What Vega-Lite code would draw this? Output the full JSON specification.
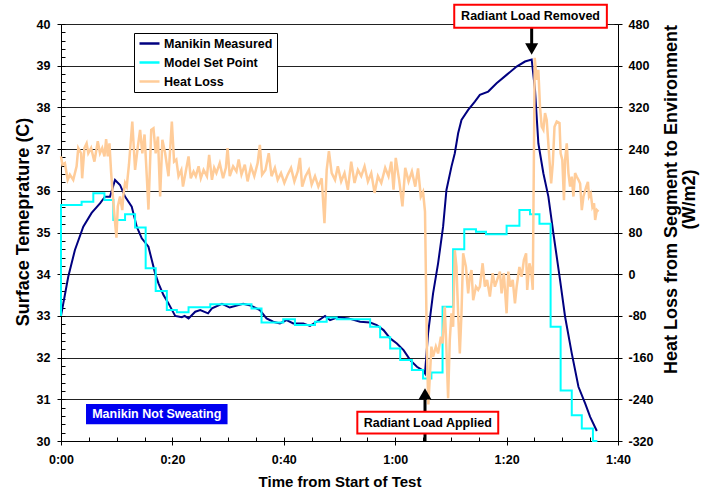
{
  "$schema": "https://vega.github.io/schema/vega-lite/v6.json",
  "width": 557,
  "height": 417,
  "autosize": {"type": "none"},
  "padding": {"left": 61, "top": 24, "right": 92, "bottom": 56},
  "background": "white",
  "config": {
    "view": {"stroke": null},
    "axis": {"grid": false, "labelFont": "Liberation Sans", "labelFontWeight": "bold", "labelFontSize": 12.5, "labelColor": "#000", "titleFont": "Liberation Sans", "titleFontWeight": "bold", "titleColor": "#000", "domainColor": "#000", "tickColor": "#000", "domainWidth": 1, "tickWidth": 1, "labelFlush": false, "labelOverlap": false},
    "text": {"font": "Liberation Sans"}
  },
  "datasets": {
    "measured": [
      {"t": 0, "v": 33.0}, {"t": 1.3, "v": 33.94}, {"t": 2.5, "v": 34.58}, {"t": 4.0, "v": 35.14}, {"t": 5.5, "v": 35.47}, {"t": 7.0, "v": 35.7}, {"t": 7.9, "v": 35.86}, {"t": 8.8, "v": 35.86}, {"t": 9.7, "v": 36.26}, {"t": 10.6, "v": 36.14}, {"t": 11.5, "v": 35.86}, {"t": 12.7, "v": 35.62}, {"t": 13.6, "v": 35.14}, {"t": 14.5, "v": 34.86}, {"t": 15.7, "v": 34.66}, {"t": 16.3, "v": 34.34}, {"t": 16.9, "v": 34.02}, {"t": 17.5, "v": 33.78}, {"t": 18.4, "v": 33.5}, {"t": 19.3, "v": 33.3}, {"t": 20.5, "v": 33.0}, {"t": 21.7, "v": 32.97}, {"t": 22.2, "v": 33.0}, {"t": 22.9, "v": 32.94}, {"t": 24.1, "v": 33.1}, {"t": 25.0, "v": 33.14}, {"t": 26.4, "v": 33.06}, {"t": 27.1, "v": 33.18}, {"t": 28.9, "v": 33.29}, {"t": 30.3, "v": 33.2}, {"t": 32.7, "v": 33.29}, {"t": 34.2, "v": 33.24}, {"t": 35.7, "v": 33.14}, {"t": 36.9, "v": 32.94}, {"t": 38.1, "v": 32.86}, {"t": 39.3, "v": 32.82}, {"t": 40.5, "v": 32.9}, {"t": 41.7, "v": 32.82}, {"t": 43.5, "v": 32.82}, {"t": 44.7, "v": 32.76}, {"t": 45.9, "v": 32.86}, {"t": 47.4, "v": 33.0}, {"t": 48.3, "v": 32.9}, {"t": 49.8, "v": 32.97}, {"t": 51.6, "v": 32.94}, {"t": 53.7, "v": 32.86}, {"t": 55.5, "v": 32.84}, {"t": 56.7, "v": 32.78}, {"t": 57.9, "v": 32.66}, {"t": 59.1, "v": 32.46}, {"t": 60.3, "v": 32.34}, {"t": 61.5, "v": 32.18}, {"t": 62.7, "v": 31.94}, {"t": 63.9, "v": 31.78}, {"t": 65.0, "v": 31.69}, {"t": 65.35, "v": 31.62}, {"t": 65.9, "v": 32.58}, {"t": 66.8, "v": 33.54}, {"t": 67.7, "v": 34.26}, {"t": 68.6, "v": 35.14}, {"t": 69.2, "v": 36.02}, {"t": 70.1, "v": 36.58}, {"t": 70.7, "v": 36.9}, {"t": 71.3, "v": 37.38}, {"t": 71.9, "v": 37.7}, {"t": 73.1, "v": 37.94}, {"t": 74.3, "v": 38.14}, {"t": 75.2, "v": 38.3}, {"t": 76.7, "v": 38.38}, {"t": 78.2, "v": 38.58}, {"t": 80.0, "v": 38.78}, {"t": 81.8, "v": 38.98}, {"t": 83.3, "v": 39.1}, {"t": 84.5, "v": 39.15}, {"t": 85.1, "v": 38.42}, {"t": 85.7, "v": 37.14}, {"t": 86.6, "v": 36.42}, {"t": 87.5, "v": 35.86}, {"t": 88.4, "v": 34.98}, {"t": 89.6, "v": 33.86}, {"t": 90.5, "v": 32.98}, {"t": 91.7, "v": 32.1}, {"t": 92.9, "v": 31.3}, {"t": 94.1, "v": 30.9}, {"t": 95.0, "v": 30.58}, {"t": 96.2, "v": 30.24}
    ],
    "setpoint": [
      {"t": 0, "v": 33.0}, {"t": 0, "v": 35.66}, {"t": 3.7, "v": 35.74}, {"t": 5.8, "v": 35.94}, {"t": 7.8, "v": 35.78}, {"t": 9.4, "v": 35.3}, {"t": 11.5, "v": 35.44}, {"t": 13.3, "v": 35.12}, {"t": 15.2, "v": 34.14}, {"t": 17.0, "v": 33.6}, {"t": 19.0, "v": 33.14}, {"t": 20.8, "v": 33.09}, {"t": 22.9, "v": 33.21}, {"t": 26.8, "v": 33.28}, {"t": 34.2, "v": 33.18}, {"t": 36.0, "v": 32.84}, {"t": 39.9, "v": 32.92}, {"t": 42.0, "v": 32.78}, {"t": 45.6, "v": 32.86}, {"t": 47.7, "v": 32.96}, {"t": 49.5, "v": 32.92}, {"t": 55.5, "v": 32.74}, {"t": 57.3, "v": 32.49}, {"t": 59.1, "v": 32.22}, {"t": 60.9, "v": 31.94}, {"t": 63.0, "v": 31.7}, {"t": 65.0, "v": 31.5}, {"t": 66.5, "v": 31.64}, {"t": 68.5, "v": 33.22}, {"t": 70.4, "v": 34.6}, {"t": 72.4, "v": 35.08}, {"t": 74.5, "v": 35.02}, {"t": 76.3, "v": 34.96}, {"t": 80.0, "v": 35.16}, {"t": 82.3, "v": 35.54}, {"t": 84.2, "v": 35.44}, {"t": 85.9, "v": 35.21}, {"t": 87.9, "v": 32.74}, {"t": 89.7, "v": 31.21}, {"t": 91.7, "v": 30.62}, {"t": 93.5, "v": 30.3}, {"t": 95.5, "v": 30.0}, {"t": 96.3, "v": 30.0}
    ],
    "heat": [
      {"t": 0.0, "h": 226}, {"t": 0.25, "h": 210}, {"t": 0.7, "h": 213}, {"t": 1.2, "h": 181}, {"t": 1.6, "h": 191}, {"t": 2.2, "h": 181}, {"t": 2.8, "h": 207}, {"t": 3.1, "h": 242}, {"t": 3.6, "h": 232}, {"t": 3.8, "h": 184}, {"t": 4.2, "h": 242}, {"t": 4.6, "h": 251}, {"t": 4.9, "h": 232}, {"t": 5.4, "h": 242}, {"t": 6.0, "h": 216}, {"t": 6.6, "h": 255}, {"t": 7.0, "h": 232}, {"t": 7.4, "h": 242}, {"t": 7.8, "h": 226}, {"t": 8.1, "h": 259}, {"t": 8.4, "h": 226}, {"t": 8.7, "h": 251}, {"t": 9.0, "h": 195}, {"t": 9.4, "h": 138}, {"t": 9.7, "h": 100}, {"t": 9.95, "h": 70}, {"t": 10.2, "h": 130}, {"t": 10.6, "h": 149}, {"t": 11.0, "h": 123}, {"t": 11.2, "h": 152}, {"t": 11.5, "h": 175}, {"t": 11.8, "h": 168}, {"t": 12.2, "h": 210}, {"t": 12.8, "h": 293}, {"t": 13.3, "h": 200}, {"t": 13.8, "h": 245}, {"t": 14.2, "h": 277}, {"t": 14.6, "h": 232}, {"t": 15.0, "h": 268}, {"t": 15.4, "h": 188}, {"t": 15.7, "h": 124}, {"t": 16.2, "h": 277}, {"t": 16.6, "h": 280}, {"t": 17.0, "h": 232}, {"t": 17.4, "h": 264}, {"t": 17.8, "h": 149}, {"t": 18.2, "h": 258}, {"t": 18.7, "h": 232}, {"t": 19.3, "h": 188}, {"t": 19.9, "h": 293}, {"t": 20.3, "h": 216}, {"t": 20.7, "h": 220}, {"t": 21.1, "h": 188}, {"t": 21.6, "h": 200}, {"t": 21.9, "h": 168}, {"t": 22.4, "h": 197}, {"t": 22.9, "h": 226}, {"t": 23.3, "h": 184}, {"t": 23.8, "h": 197}, {"t": 24.2, "h": 188}, {"t": 24.7, "h": 207}, {"t": 25.1, "h": 184}, {"t": 25.6, "h": 200}, {"t": 26.2, "h": 188}, {"t": 26.6, "h": 229}, {"t": 27.1, "h": 181}, {"t": 27.5, "h": 204}, {"t": 27.9, "h": 194}, {"t": 28.5, "h": 213}, {"t": 29.1, "h": 184}, {"t": 29.6, "h": 204}, {"t": 29.9, "h": 242}, {"t": 30.3, "h": 188}, {"t": 30.9, "h": 207}, {"t": 31.5, "h": 197}, {"t": 31.9, "h": 220}, {"t": 32.4, "h": 191}, {"t": 33.0, "h": 210}, {"t": 33.5, "h": 178}, {"t": 34.1, "h": 207}, {"t": 34.7, "h": 188}, {"t": 35.3, "h": 213}, {"t": 35.7, "h": 248}, {"t": 36.1, "h": 191}, {"t": 36.7, "h": 200}, {"t": 37.3, "h": 232}, {"t": 37.8, "h": 188}, {"t": 38.4, "h": 204}, {"t": 38.9, "h": 181}, {"t": 39.5, "h": 194}, {"t": 40.1, "h": 175}, {"t": 40.7, "h": 191}, {"t": 41.3, "h": 204}, {"t": 41.9, "h": 178}, {"t": 42.5, "h": 197}, {"t": 42.9, "h": 223}, {"t": 43.3, "h": 168}, {"t": 43.9, "h": 188}, {"t": 44.5, "h": 200}, {"t": 45.0, "h": 172}, {"t": 45.6, "h": 188}, {"t": 46.2, "h": 168}, {"t": 46.8, "h": 184}, {"t": 47.3, "h": 98}, {"t": 47.7, "h": 200}, {"t": 48.1, "h": 236}, {"t": 48.6, "h": 194}, {"t": 49.2, "h": 181}, {"t": 49.7, "h": 207}, {"t": 50.3, "h": 178}, {"t": 50.9, "h": 194}, {"t": 51.5, "h": 162}, {"t": 52.1, "h": 216}, {"t": 52.7, "h": 175}, {"t": 53.3, "h": 200}, {"t": 53.9, "h": 188}, {"t": 54.5, "h": 207}, {"t": 55.1, "h": 178}, {"t": 55.7, "h": 194}, {"t": 56.3, "h": 156}, {"t": 56.9, "h": 188}, {"t": 57.5, "h": 175}, {"t": 58.2, "h": 204}, {"t": 58.8, "h": 188}, {"t": 59.3, "h": 216}, {"t": 59.7, "h": 162}, {"t": 60.1, "h": 223}, {"t": 60.7, "h": 181}, {"t": 61.3, "h": 130}, {"t": 61.8, "h": 204}, {"t": 62.4, "h": 178}, {"t": 63.0, "h": 197}, {"t": 63.6, "h": 168}, {"t": 64.1, "h": 203}, {"t": 64.6, "h": 149}, {"t": 65.0, "h": 158}, {"t": 65.35, "h": 120}, {"t": 65.7, "h": -150}, {"t": 65.95, "h": -250}, {"t": 66.2, "h": -200}, {"t": 66.5, "h": -139}, {"t": 66.8, "h": -158}, {"t": 67.3, "h": -139}, {"t": 67.7, "h": -152}, {"t": 68.2, "h": -120}, {"t": 68.5, "h": -133}, {"t": 68.9, "h": -62}, {"t": 69.2, "h": -145}, {"t": 69.5, "h": -238}, {"t": 69.8, "h": -126}, {"t": 70.1, "h": -75}, {"t": 70.4, "h": -101}, {"t": 70.7, "h": 46}, {"t": 71.0, "h": 14}, {"t": 71.3, "h": -75}, {"t": 71.6, "h": -152}, {"t": 71.9, "h": -75}, {"t": 72.2, "h": 40}, {"t": 72.7, "h": 14}, {"t": 73.1, "h": -37}, {"t": 73.4, "h": -5}, {"t": 73.7, "h": 8}, {"t": 74.0, "h": -50}, {"t": 74.5, "h": -24}, {"t": 74.9, "h": -30}, {"t": 75.2, "h": -24}, {"t": 75.7, "h": 21}, {"t": 76.1, "h": -24}, {"t": 76.5, "h": -11}, {"t": 77.0, "h": -43}, {"t": 77.5, "h": 2}, {"t": 77.9, "h": -24}, {"t": 78.3, "h": -11}, {"t": 78.8, "h": 5}, {"t": 79.1, "h": -37}, {"t": 79.5, "h": 2}, {"t": 80.0, "h": -75}, {"t": 80.3, "h": 5}, {"t": 80.7, "h": -24}, {"t": 81.1, "h": -11}, {"t": 81.5, "h": -56}, {"t": 81.8, "h": -24}, {"t": 82.3, "h": 14}, {"t": 82.7, "h": -5}, {"t": 83.1, "h": 27}, {"t": 83.5, "h": 40}, {"t": 83.7, "h": -30}, {"t": 84.1, "h": 21}, {"t": 84.4, "h": 8}, {"t": 84.7, "h": -30}, {"t": 85.05, "h": 415}, {"t": 85.4, "h": 373}, {"t": 85.7, "h": 392}, {"t": 86.0, "h": 321}, {"t": 86.3, "h": 283}, {"t": 86.6, "h": 277}, {"t": 86.9, "h": 309}, {"t": 87.2, "h": 296}, {"t": 87.7, "h": 219}, {"t": 88.0, "h": 174}, {"t": 88.3, "h": 213}, {"t": 88.6, "h": 283}, {"t": 89.0, "h": 293}, {"t": 89.5, "h": 290}, {"t": 89.7, "h": 232}, {"t": 90.0, "h": 219}, {"t": 90.3, "h": 142}, {"t": 90.5, "h": 219}, {"t": 90.8, "h": 251}, {"t": 91.1, "h": 194}, {"t": 91.4, "h": 168}, {"t": 91.7, "h": 187}, {"t": 92.0, "h": 149}, {"t": 92.3, "h": 194}, {"t": 92.6, "h": 187}, {"t": 92.9, "h": 181}, {"t": 93.2, "h": 174}, {"t": 93.5, "h": 123}, {"t": 93.8, "h": 149}, {"t": 94.3, "h": 168}, {"t": 94.6, "h": 177}, {"t": 94.8, "h": 149}, {"t": 95.1, "h": 155}, {"t": 95.4, "h": 129}, {"t": 95.7, "h": 136}, {"t": 95.9, "h": 104}, {"t": 96.2, "h": 123}, {"t": 96.5, "h": 120}
    ]
  },
  "resolve": {"scale": {"y": "independent"}, "axis": {"x": "independent", "y": "independent"}},
  "layer": [
    {
      "data": {"name": "measured"},
      "mark": {"type": "line", "strokeWidth": 2, "clip": false},
      "encoding": {
        "x": {"field": "t", "type": "quantitative", "scale": {"domain": [0, 100], "nice": false},
          "axis": {"orient": "bottom", "values": [0, 20, 40, 60, 80, 100], "labelExpr": "floor(datum.value/60) + ':' + (datum.value % 60 < 10 ? '0' : '') + (datum.value % 60)", "tickSize": 4, "labelPadding": 8, "title": "Time from Start of Test", "titleFontSize": 15, "titlePadding": 9}},
        "y": {"field": "v", "type": "quantitative", "scale": {"domain": [30, 40], "nice": false, "zero": false},
          "axis": {"orient": "left", "values": [30, 31, 32, 33, 34, 35, 36, 37, 38, 39, 40], "grid": true, "gridColor": "#222", "gridWidth": 1, "tickSize": 4, "labelPadding": 7, "labelExpr": "'' + datum.value", "title": "Surface Temeprature (C)", "titleFontSize": 18, "titleAngle": 270, "titleBaseline": "alphabetic", "titleAlign": "center", "titleX": -32.5, "titleY": 197.5}},
        "color": {"datum": "Manikin Measured", "type": "nominal",
          "scale": {"domain": ["Manikin Measured", "Model Set Point", "Heat Loss"], "range": ["#000080", "#00FFFF", "#FFCC99"]},
          "legend": {"orient": "none", "legendX": 73, "legendY": 9, "title": null, "symbolType": "stroke", "symbolSize": 400, "symbolStrokeWidth": 2.5, "clipHeight": 13, "labelFont": "Liberation Sans", "labelFontSize": 12.5, "labelFontWeight": "bold", "labelColor": "#000", "strokeColor": "#000", "fillColor": "#fff", "padding": 4, "rowPadding": 6, "labelOffset": 3}}
      }
    },
    {
      "data": {"name": "setpoint"},
      "mark": {"type": "line", "strokeWidth": 2, "interpolate": "step-after", "clip": false},
      "encoding": {
        "x": {"field": "t", "type": "quantitative", "scale": {"domain": [0, 100], "nice": false},
          "axis": {"orient": "bottom", "values": [0, 5, 10, 15, 20, 25, 30, 35, 40, 45, 50, 55, 60, 65, 70, 75, 80, 85, 90, 95, 100], "tickSize": -4, "labels": false, "domain": false, "title": null}},
        "y": {"field": "v", "type": "quantitative", "scale": {"domain": [30, 40], "nice": false, "zero": false},
          "axis": {"orient": "left", "values": [30, 30.2, 30.4, 30.6, 30.8, 31, 31.2, 31.4, 31.6, 31.8, 32, 32.2, 32.4, 32.6, 32.8, 33, 33.2, 33.4, 33.6, 33.8, 34, 34.2, 34.4, 34.6, 34.8, 35, 35.2, 35.4, 35.6, 35.8, 36, 36.2, 36.4, 36.6, 36.8, 37, 37.2, 37.4, 37.6, 37.8, 38, 38.2, 38.4, 38.6, 38.8, 39, 39.2, 39.4, 39.6, 39.8, 40], "tickSize": -4, "labels": false, "domain": false, "title": null}},
        "color": {"datum": "Model Set Point", "type": "nominal",
          "scale": {"domain": ["Manikin Measured", "Model Set Point", "Heat Loss"], "range": ["#000080", "#00FFFF", "#FFCC99"]},
          "legend": {"orient": "none", "legendX": 73, "legendY": 9, "title": null, "symbolType": "stroke", "symbolSize": 400, "symbolStrokeWidth": 2.5, "clipHeight": 13, "labelFont": "Liberation Sans", "labelFontSize": 12.5, "labelFontWeight": "bold", "labelColor": "#000", "strokeColor": "#000", "fillColor": "#fff", "padding": 4, "rowPadding": 6, "labelOffset": 3}}
      }
    },
    {
      "data": {"name": "heat"},
      "mark": {"type": "line", "strokeWidth": 2.5, "clip": false},
      "encoding": {
        "x": {"field": "t", "type": "quantitative", "scale": {"domain": [0, 100], "nice": false}, "axis": null},
        "y": {"field": "h", "type": "quantitative", "scale": {"domain": [-320, 480], "nice": false, "zero": false},
          "axis": {"orient": "right", "values": [-320, -240, -160, -80, 0, 80, 160, 240, 320, 400, 480], "tickSize": 4, "labelPadding": 6, "labelExpr": "'' + datum.value", "title": ["Heat Loss from Segment to Environment", "(W/m2)"], "titleFontSize": 18, "titleAngle": 270, "titleBaseline": "alphabetic", "titleAlign": "center", "titleLineHeight": 18, "titleX": 58, "titleY": 175}},
        "color": {"datum": "Heat Loss", "type": "nominal",
          "scale": {"domain": ["Manikin Measured", "Model Set Point", "Heat Loss"], "range": ["#000080", "#00FFFF", "#FFCC99"]},
          "legend": {"orient": "none", "legendX": 73, "legendY": 9, "title": null, "symbolType": "stroke", "symbolSize": 400, "symbolStrokeWidth": 2.5, "clipHeight": 13, "labelFont": "Liberation Sans", "labelFontSize": 12.5, "labelFontWeight": "bold", "labelColor": "#000", "strokeColor": "#000", "fillColor": "#fff", "padding": 4, "rowPadding": 6, "labelOffset": 3}}
      }
    },
    {
      "data": {"values": [{}]},
      "mark": {"type": "rule", "strokeWidth": 3, "color": "#000"},
      "encoding": {
        "x": {"datum": 84.5, "type": "quantitative", "scale": {"domain": [0, 100], "nice": false}, "axis": null},
        "y": {"datum": 39.91, "type": "quantitative", "scale": {"domain": [30, 40], "nice": false, "zero": false},
          "axis": {"orient": "right", "values": [30, 31, 32, 33, 34, 35, 36, 37, 38, 39, 40], "tickSize": -4, "labels": false, "domain": false, "title": null}},
        "y2": {"datum": 39.45}
      }
    },
    {
      "data": {"values": [{}]},
      "mark": {"type": "point", "shape": "triangle-down", "filled": true, "size": 170, "color": "#000", "opacity": 1},
      "encoding": {
        "x": {"datum": 84.5, "type": "quantitative", "scale": {"domain": [0, 100], "nice": false}, "axis": null},
        "y": {"datum": 39.4, "type": "quantitative", "scale": {"domain": [30, 40], "nice": false, "zero": false}, "axis": null}
      }
    },
    {
      "data": {"values": [{}]},
      "mark": {"type": "rule", "strokeWidth": 3, "color": "#000"},
      "encoding": {
        "x": {"datum": 65.35, "type": "quantitative", "scale": {"domain": [0, 100], "nice": false}, "axis": null},
        "y": {"datum": 29.98, "type": "quantitative", "scale": {"domain": [30, 40], "nice": false, "zero": false}, "axis": null},
        "y2": {"datum": 31.0}
      }
    },
    {
      "data": {"values": [{}]},
      "mark": {"type": "point", "shape": "triangle-up", "filled": true, "size": 170, "color": "#000", "opacity": 1},
      "encoding": {
        "x": {"datum": 65.35, "type": "quantitative", "scale": {"domain": [0, 100], "nice": false}, "axis": null},
        "y": {"datum": 31.13, "type": "quantitative", "scale": {"domain": [30, 40], "nice": false, "zero": false}, "axis": null}
      }
    },
    {
      "data": {"values": [{}]},
      "mark": {"type": "rect", "fill": "#fff", "stroke": "#FF0000", "strokeWidth": 2},
      "encoding": {
        "x": {"datum": 70.6, "type": "quantitative", "scale": {"domain": [0, 100], "nice": false}, "axis": null},
        "x2": {"datum": 98.0},
        "y": {"datum": 40.46, "type": "quantitative", "scale": {"domain": [30, 40], "nice": false, "zero": false}, "axis": null},
        "y2": {"datum": 39.91}
      }
    },
    {
      "data": {"values": [{}]},
      "mark": {"type": "rect", "fill": "#fff", "stroke": "#FF0000", "strokeWidth": 2},
      "encoding": {
        "x": {"datum": 53.2, "type": "quantitative", "scale": {"domain": [0, 100], "nice": false}, "axis": null},
        "x2": {"datum": 78.5},
        "y": {"datum": 30.7, "type": "quantitative", "scale": {"domain": [30, 40], "nice": false, "zero": false}, "axis": null},
        "y2": {"datum": 30.18}
      }
    },
    {
      "data": {"values": [{}]},
      "mark": {"type": "rect", "fill": "#0000F0"},
      "encoding": {
        "x": {"datum": 4.49, "type": "quantitative", "scale": {"domain": [0, 100], "nice": false}, "axis": null},
        "x2": {"datum": 29.9},
        "y": {"datum": 30.89, "type": "quantitative", "scale": {"domain": [30, 40], "nice": false, "zero": false}, "axis": null},
        "y2": {"datum": 30.4}
      }
    },
    {
      "data": {"values": [{}]},
      "mark": {"type": "text", "text": "Radiant Load Removed", "font": "Liberation Sans", "fontWeight": "bold", "fontSize": 12.5, "color": "#000", "align": "center", "baseline": "middle"},
      "encoding": {
        "x": {"datum": 84.3, "type": "quantitative", "scale": {"domain": [0, 100], "nice": false}, "axis": null},
        "y": {"datum": 40.185, "type": "quantitative", "scale": {"domain": [30, 40], "nice": false, "zero": false}, "axis": null}
      }
    },
    {
      "data": {"values": [{}]},
      "mark": {"type": "text", "text": "Radiant Load Applied", "font": "Liberation Sans", "fontWeight": "bold", "fontSize": 12.5, "color": "#000", "align": "center", "baseline": "middle"},
      "encoding": {
        "x": {"datum": 65.85, "type": "quantitative", "scale": {"domain": [0, 100], "nice": false}, "axis": null},
        "y": {"datum": 30.44, "type": "quantitative", "scale": {"domain": [30, 40], "nice": false, "zero": false}, "axis": null}
      }
    },
    {
      "data": {"values": [{}]},
      "mark": {"type": "text", "text": "Manikin Not Sweating", "font": "Liberation Sans", "fontWeight": "bold", "fontSize": 12.5, "color": "#fff", "align": "center", "baseline": "middle"},
      "encoding": {
        "x": {"datum": 17.2, "type": "quantitative", "scale": {"domain": [0, 100], "nice": false}, "axis": null},
        "y": {"datum": 30.645, "type": "quantitative", "scale": {"domain": [30, 40], "nice": false, "zero": false}, "axis": null}
      }
    }
  ]
}
